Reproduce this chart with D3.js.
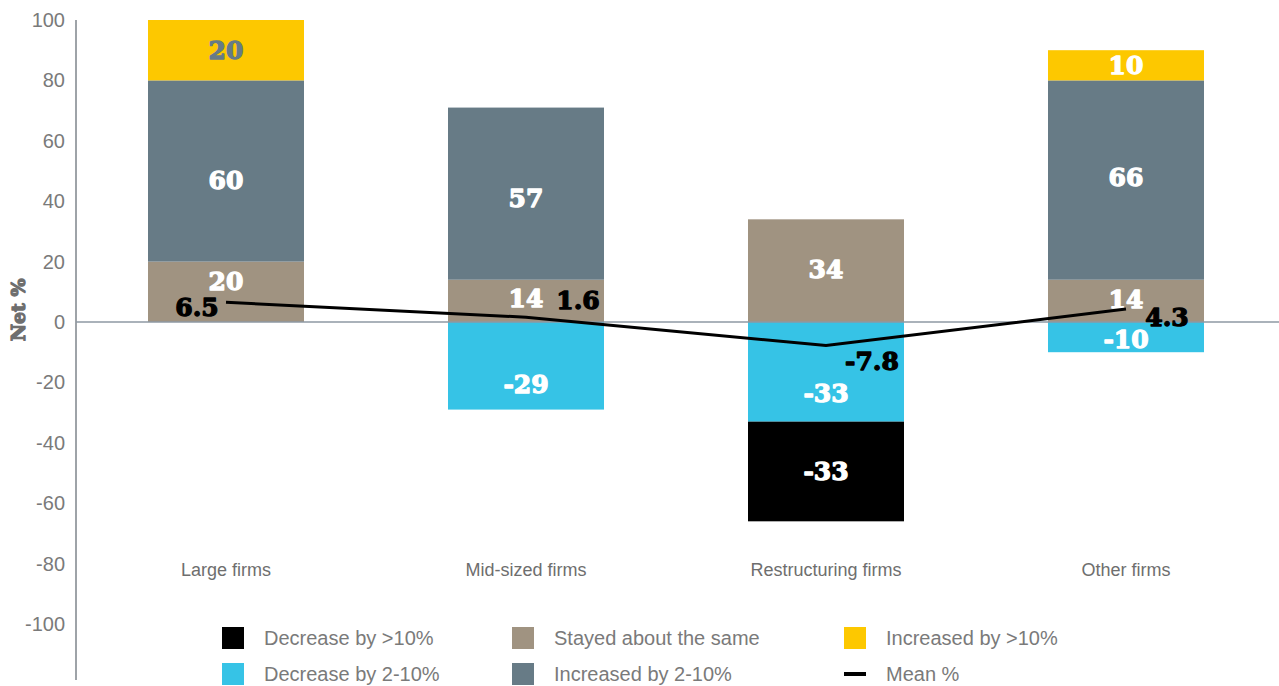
<!DOCTYPE html>
<html><head><meta charset="utf-8">
<script src="https://cdn.jsdelivr.net/npm/d3@7"></script>
<style>
body{margin:0;background:#fff;}
svg{display:block;}
</style></head>
<body>
<svg id="c" width="1279" height="686"></svg>
<script>
const categories = ["Large firms", "Mid-sized firms", "Restructuring firms", "Other firms"];
const decreaseMore10 = [0, 0, -33, 0];
const decrease2to10 = [0, -29, -33, -10];
const stayedSame = [20, 14, 34, 14];
const increase2to10 = [60, 57, 0, 66];
const increaseMore10 = [20, 0, 0, 10];
const meanPct = [6.5, 1.6, -7.8, 4.3];
const yTicks = [100, 80, 60, 40, 20, 0, -20, -40, -60, -80, -100];

const seriesNames = ["Decrease by >10%", "Decrease by 2-10%", "Stayed about the same", "Increased by 2-10%", "Increased by >10%"];
const seriesColors = ["#000000", "#36c3e6", "#a09381", "#677b86", "#fdc800"];
const labelColors = [["#fff"], ["#fff"], ["#fff"], ["#fff"], ["#677b86", "#fff", "#fff", "#fff"]];
// vertical label nudges in px, [series][category]
const labelNudge = [[0,0,0,0],[0,18,21,2],[-11,-3,-2,-2],[9,4,0,-3],[0,0,0,0]];

const svg = d3.select("#c");
const y = d3.scaleLinear().domain([-100, 100]).range([624, 20]);
const x = d3.scaleBand().domain(categories).range([76, 1276]).paddingInner(0.48).paddingOuter(0.24);

// y axis
const yAxis = d3.axisLeft(y).tickValues(yTicks).tickSize(0).tickPadding(11).tickFormat(d => String(d));
const ga = svg.append("g").attr("transform", "translate(76,0)").call(yAxis);
ga.select(".domain").remove();
ga.selectAll("text").attr("font-family", "Liberation Sans, Arial, sans-serif").attr("font-size", 20).attr("fill", "#7a7a7a");
svg.append("line").attr("x1", 76).attr("x2", 76).attr("y1", y(100)).attr("y2", 680).attr("stroke", "#9ea3a8").attr("stroke-width", 2);

// stacked bars
const seriesAll = [decreaseMore10, decrease2to10, stayedSame, increase2to10, increaseMore10];
const segs = [];
categories.forEach((c, i) => {
  let base = 0;
  [2, 3, 4].forEach(s => {
    const v = seriesAll[s][i];
    if (v !== 0) { segs.push({c, i, s, v, y0: base, y1: base + v}); base += v; }
  });
  base = 0;
  [1, 0].forEach(s => {
    const v = seriesAll[s][i];
    if (v !== 0) { segs.push({c, i, s, v, y0: base, y1: base + v}); base += v; }
  });
});

svg.append("g").selectAll("rect").data(segs).join("rect")
  .attr("x", d => x(d.c)).attr("width", x.bandwidth())
  .attr("y", d => y(Math.max(d.y0, d.y1)))
  .attr("height", d => Math.abs(y(d.y0) - y(d.y1)))
  .attr("fill", d => seriesColors[d.s]);

// zero line
svg.append("line").attr("x1", 76).attr("x2", 1279).attr("y1", y(0)).attr("y2", y(0)).attr("stroke", "#8e99a3").attr("stroke-width", 1.5);

const slab = "'DejaVu Serif', serif";
function heavy(sel, size) {
  sel.attr("font-family", slab).attr("font-weight", "bold").attr("font-size", size)
    .attr("stroke-width", 1.3).attr("stroke-linejoin", "round");
}
svg.append("g").selectAll("text").data(segs).join("text")
  .attr("x", d => x(d.c) + x.bandwidth() / 2)
  .attr("y", d => y((d.y0 + d.y1) / 2) + labelNudge[d.s][d.i])
  .attr("dy", "0.36em")
  .attr("text-anchor", "middle")
  .call(heavy, 25)
  .attr("fill", d => { const lc = labelColors[d.s]; return lc[d.i] || lc[0]; })
  .attr("stroke", d => { const lc = labelColors[d.s]; return lc[d.i] || lc[0]; })
  .text(d => d.v);

// mean line
const line = d3.line().x((d, i) => x(categories[i]) + x.bandwidth() / 2).y(d => y(d));
svg.append("path").datum(meanPct).attr("d", line).attr("fill", "none").attr("stroke", "#000").attr("stroke-width", 3);

const meanLabelOffsets = [[-29, 5], [52, -17], [46, 15], [41, 8]];
svg.append("g").selectAll("text").data(meanPct).join("text")
  .attr("x", (d, i) => x(categories[i]) + x.bandwidth() / 2 + meanLabelOffsets[i][0])
  .attr("y", (d, i) => y(d) + meanLabelOffsets[i][1])
  .attr("dy", "0.36em").attr("text-anchor", "middle")
  .call(heavy, 25).attr("fill", "#000").attr("stroke", "#000")
  .text(d => d);

// category labels
svg.append("g").selectAll("text").data(categories).join("text")
  .attr("x", d => x(d) + x.bandwidth() / 2).attr("y", y(-80) + 12)
  .attr("text-anchor", "middle")
  .attr("font-family", "Liberation Sans, Arial, sans-serif").attr("font-size", 18).attr("fill", "#6e6e6e")
  .text(d => d);

// y title
svg.append("text").attr("transform", `translate(25,${y(4)}) rotate(-90)`)
  .attr("text-anchor", "middle")
  .call(heavy, 19).attr("fill", "#6e6e6e").attr("stroke", "#6e6e6e")
  .text("Net %");

// legend
const legendItems = [
  {name: seriesNames[0], color: seriesColors[0], type: "rect", col: 0, row: 0},
  {name: seriesNames[2], color: seriesColors[2], type: "rect", col: 1, row: 0},
  {name: seriesNames[4], color: seriesColors[4], type: "rect", col: 2, row: 0},
  {name: seriesNames[1], color: seriesColors[1], type: "rect", col: 0, row: 1},
  {name: seriesNames[3], color: seriesColors[3], type: "rect", col: 1, row: 1},
  {name: "Mean %", color: "#000", type: "line", col: 2, row: 1}
];
const colX = [222, 512, 844], rowY = [638, 674];
const lg = svg.append("g").selectAll("g").data(legendItems).join("g")
  .attr("transform", d => `translate(${colX[d.col]},${rowY[d.row]})`);
lg.filter(d => d.type === "rect").append("rect").attr("x", 0).attr("y", -11).attr("width", 22).attr("height", 22).attr("fill", d => d.color);
lg.filter(d => d.type === "line").append("rect").attr("x", 0).attr("y", -2).attr("width", 22).attr("height", 4).attr("fill", d => d.color);
lg.append("text").attr("x", 42).attr("y", 0).attr("dy", "0.35em")
  .attr("font-family", "Liberation Sans, Arial, sans-serif").attr("font-size", 20).attr("fill", "#7a7a7a")
  .text(d => d.name);
</script>
</body></html>
